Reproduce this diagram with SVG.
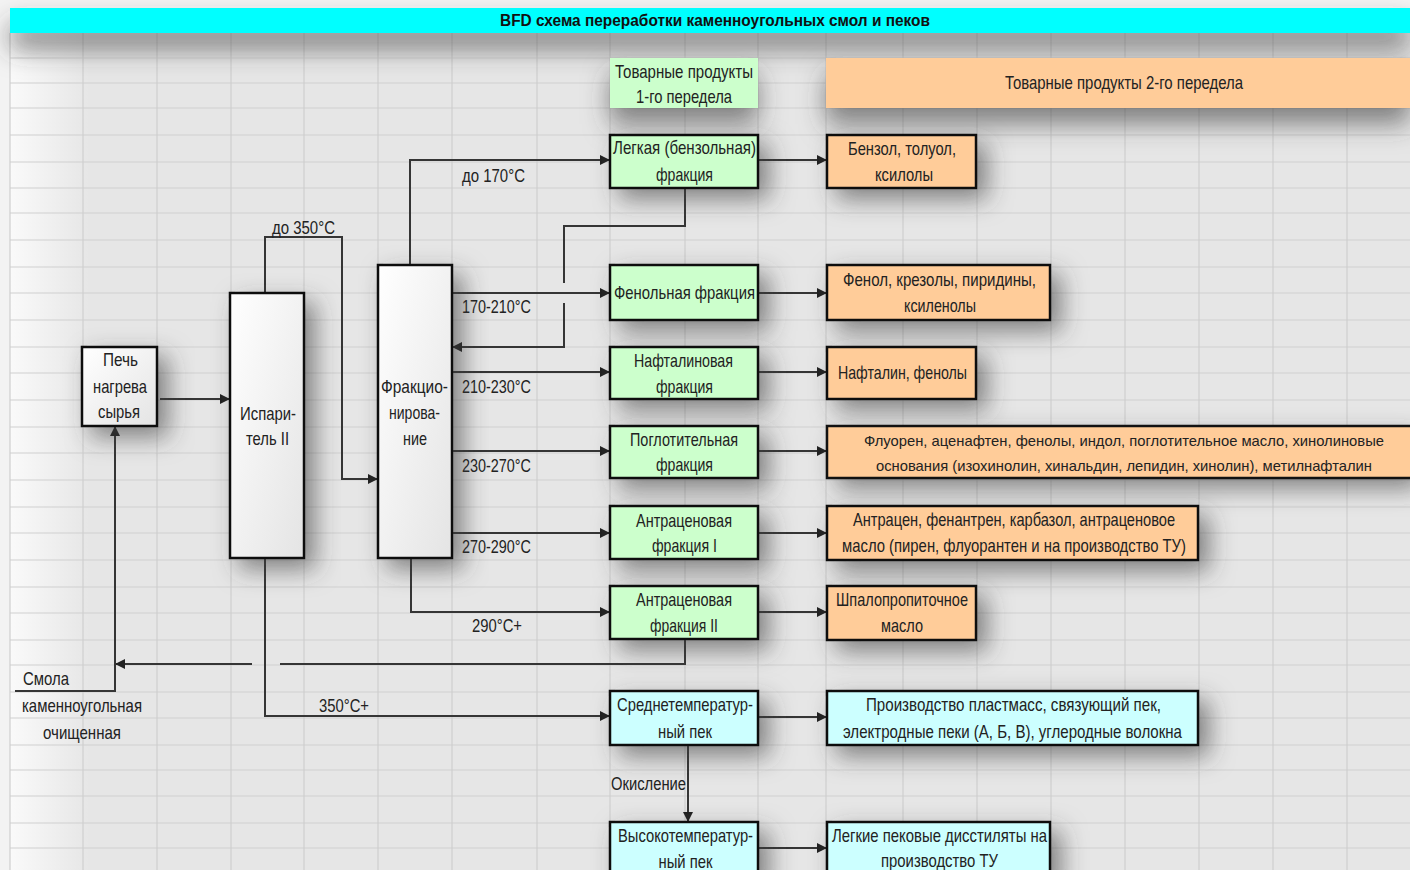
<svg xmlns="http://www.w3.org/2000/svg" width="1410" height="870" viewBox="0 0 1410 870">
<style>
text{font-family:"Liberation Sans",Arial,sans-serif;font-size:18.5px;fill:#222;text-anchor:middle}
.t{font-size:16px;font-weight:bold;fill:#111}
.lbl{font-size:17.5px}
.sm{font-size:15px}
.grid{stroke:#cfcfcf;stroke-width:1.2;fill:none}
.box{stroke:#111;stroke-width:2.5}
.g{fill:#ccffcc}.o{fill:#ffcc99}.c{fill:#ccffff}.w{fill:url(#wg)}
.ln{stroke:#353535;stroke-width:2;fill:none}
.ar{marker-end:url(#ah)}
</style>
<defs>
<marker id="ah" markerUnits="userSpaceOnUse" markerWidth="10" markerHeight="10" refX="10" refY="5" orient="auto"><path d="M0,0 L10,5 L0,10 z" fill="#222"/></marker>
<filter id="sh" x="-40%" y="-40%" width="190%" height="220%"><feDropShadow dx="10" dy="10" stdDeviation="12" flood-color="#3a3a3a" flood-opacity="0.6"/></filter>
<filter id="shb" filterUnits="userSpaceOnUse" x="0" y="0" width="1410" height="200"><feDropShadow dx="0" dy="16" stdDeviation="13" flood-color="#3a3a3a" flood-opacity="0.6"/></filter>
<linearGradient id="wg" x1="0" y1="0" x2="1" y2="1"><stop offset="0" stop-color="#ffffff"/><stop offset="1" stop-color="#e4e4e4"/></linearGradient>
<linearGradient id="lv" x1="0" y1="0" x2="1" y2="0"><stop offset="0" stop-color="#ffffff" stop-opacity="0.8"/><stop offset="1" stop-color="#ffffff" stop-opacity="0"/></linearGradient>
</defs>
<rect x="0" y="0" width="1410" height="870" fill="#f3f3f3"/>
<rect x="10" y="33" width="1400" height="837" fill="#e6e6e6"/>
<rect x="10" y="33" width="80" height="837" fill="url(#lv)"/>
<path class="grid" d="M10,58H1410M10,83H1410M10,108H1410M10,135H1410M10,162H1410M10,188H1410M10,213H1410M10,240H1410M10,267H1410M10,293H1410M10,320H1410M10,347H1410M10,373H1410M10,400H1410M10,427H1410M10,453H1410M10,480H1410M10,507H1410M10,533H1410M10,560H1410M10,587H1410M10,613H1410M10,640H1410M10,665H1410M10,692H1410M10,718H1410M10,745H1410M10,770H1410M10,796H1410M10,823H1410M10,848H1410M10,33V870M83,33V870M157,33V870M231,33V870M304,33V870M378,33V870M452,33V870M537,33V870M610,33V870M685,33V870M758,33V870M826,33V870M903,33V870M977,33V870M1051,33V870M1125,33V870M1199,33V870M1273,33V870M1347,33V870"/>

<g id="title">
<rect x="10" y="8" width="1400" height="25" fill="#00ffff" filter="url(#shb)"/>
<text class="t" x="715" y="26" textLength="430" lengthAdjust="spacingAndGlyphs">BFD схема переработки каменноугольных смол и пеков</text>
</g>
<g id="hdr1">
<rect x="610" y="58" width="148" height="50" class="g" filter="url(#shb)"/>
<text x="684" y="78" textLength="138" lengthAdjust="spacingAndGlyphs">Товарные продукты</text>
<text x="684" y="103" textLength="96" lengthAdjust="spacingAndGlyphs">1-го передела</text>
</g>
<g id="hdr2">
<rect x="826" y="58" width="584" height="50" class="o" filter="url(#shb)"/>
<text x="1124" y="89" textLength="238" lengthAdjust="spacingAndGlyphs">Товарные продукты 2-го передела</text>
</g>

<g id="connectors">
<path class="ln ar" d="M160,399H230"/>
<path class="ln ar" d="M265,293V237H342V479H378"/>
<path class="ln ar" d="M410,265V160H610"/>
<path class="ln ar" d="M452,293H610"/>
<path class="ln" d="M685,188V226H564V283"/>
<path class="ln ar" d="M564,303V347H452"/>
<path class="ln ar" d="M452,372H610"/>
<path class="ln ar" d="M452,451H610"/>
<path class="ln ar" d="M452,533H610"/>
<path class="ln ar" d="M411,558V612H610"/>
<path class="ln" d="M685,639V664H280"/>
<path class="ln ar" d="M252,664H115"/>
<path class="ln ar" d="M15,691H115V426"/>
<path class="ln ar" d="M265,558V716H610"/>
<path class="ln ar" d="M758,160H827"/>
<path class="ln ar" d="M758,293H827"/>
<path class="ln ar" d="M758,372H827"/>
<path class="ln ar" d="M758,451H827"/>
<path class="ln ar" d="M758,533H827"/>
<path class="ln ar" d="M758,612H827"/>
<path class="ln ar" d="M758,717H827"/>
<path class="ln ar" d="M758,848H827"/>
<path class="ln ar" d="M688,745V822"/>
<text class="lbl" x="303.5" y="234" textLength="63" lengthAdjust="spacingAndGlyphs">до 350°C</text>
<text class="lbl" x="493.5" y="182" textLength="63" lengthAdjust="spacingAndGlyphs">до 170°C</text>
<text class="lbl" x="496.5" y="313" textLength="69" lengthAdjust="spacingAndGlyphs">170-210°C</text>
<text class="lbl" x="496.5" y="393" textLength="69" lengthAdjust="spacingAndGlyphs">210-230°C</text>
<text class="lbl" x="496.5" y="472" textLength="69" lengthAdjust="spacingAndGlyphs">230-270°C</text>
<text class="lbl" x="496.5" y="553" textLength="69" lengthAdjust="spacingAndGlyphs">270-290°C</text>
<text class="lbl" x="497" y="632" textLength="50" lengthAdjust="spacingAndGlyphs">290°C+</text>
<text class="lbl" x="344" y="712" textLength="50" lengthAdjust="spacingAndGlyphs">350°C+</text>
<text class="lbl" x="648.5" y="790" textLength="75" lengthAdjust="spacingAndGlyphs">Окисление</text>
</g>

<g id="feed">
<text x="46" y="685" textLength="46" lengthAdjust="spacingAndGlyphs">Смола</text>
<text x="82" y="712" textLength="120" lengthAdjust="spacingAndGlyphs">каменноугольная</text>
<text x="82" y="739" textLength="78" lengthAdjust="spacingAndGlyphs">очищенная</text>
</g>

<g id="pech">
<rect x="82" y="347" width="75" height="79" class="box w" filter="url(#sh)"/>
<text x="120.5" y="366" textLength="35" lengthAdjust="spacingAndGlyphs">Печь</text>
<text x="120" y="393" textLength="54" lengthAdjust="spacingAndGlyphs">нагрева</text>
<text x="119" y="418" textLength="42" lengthAdjust="spacingAndGlyphs">сырья</text>
</g>
<g id="isp">
<rect x="230" y="293" width="74" height="265" class="box w" filter="url(#sh)"/>
<text x="268" y="420" textLength="56" lengthAdjust="spacingAndGlyphs">Испари-</text>
<text x="267.5" y="445" textLength="43" lengthAdjust="spacingAndGlyphs">тель II</text>
</g>
<g id="frac">
<rect x="378" y="265" width="74" height="293" class="box w" filter="url(#sh)"/>
<text x="414.5" y="393" textLength="67" lengthAdjust="spacingAndGlyphs">Фракцио-</text>
<text x="414.5" y="419" textLength="51" lengthAdjust="spacingAndGlyphs">нирова-</text>
<text x="415" y="445" textLength="24" lengthAdjust="spacingAndGlyphs">ние</text>
</g>

<g id="light">
<rect x="610" y="135" width="148" height="53" class="box g" filter="url(#sh)"/>
<text x="684.5" y="154" textLength="143" lengthAdjust="spacingAndGlyphs">Легкая (бензольная)</text>
<text x="684.5" y="181" textLength="57" lengthAdjust="spacingAndGlyphs">фракция</text>
</g>
<g id="phenol">
<rect x="610" y="265" width="148" height="55" class="box g" filter="url(#sh)"/>
<text x="684.5" y="299" textLength="141" lengthAdjust="spacingAndGlyphs">Фенольная фракция</text>
</g>
<g id="naph">
<rect x="610" y="347" width="148" height="52" class="box g" filter="url(#sh)"/>
<text x="683.5" y="367" textLength="99" lengthAdjust="spacingAndGlyphs">Нафталиновая</text>
<text x="684.5" y="393" textLength="57" lengthAdjust="spacingAndGlyphs">фракция</text>
</g>
<g id="absorb">
<rect x="610" y="426" width="148" height="52" class="box g" filter="url(#sh)"/>
<text x="684" y="446" textLength="108" lengthAdjust="spacingAndGlyphs">Поглотительная</text>
<text x="684.5" y="471" textLength="57" lengthAdjust="spacingAndGlyphs">фракция</text>
</g>
<g id="anth1">
<rect x="610" y="506" width="148" height="53" class="box g" filter="url(#sh)"/>
<text x="684" y="527" textLength="96" lengthAdjust="spacingAndGlyphs">Антраценовая</text>
<text x="684.5" y="552" textLength="65" lengthAdjust="spacingAndGlyphs">фракция I</text>
</g>
<g id="anth2">
<rect x="610" y="586" width="148" height="53" class="box g" filter="url(#sh)"/>
<text x="684" y="606" textLength="96" lengthAdjust="spacingAndGlyphs">Антраценовая</text>
<text x="684" y="632" textLength="68" lengthAdjust="spacingAndGlyphs">фракция II</text>
</g>
<g id="midpitch">
<rect x="610" y="691" width="148" height="54" class="box c" filter="url(#sh)"/>
<text x="685" y="711" textLength="136" lengthAdjust="spacingAndGlyphs">Среднетемператур-</text>
<text x="685" y="738" textLength="54" lengthAdjust="spacingAndGlyphs">ный пек</text>
</g>
<g id="highpitch">
<rect x="610" y="822" width="148" height="60" class="box c" filter="url(#sh)"/>
<text x="685.5" y="842" textLength="135" lengthAdjust="spacingAndGlyphs">Высокотемператур-</text>
<text x="685.5" y="868" textLength="54" lengthAdjust="spacingAndGlyphs">ный пек</text>
</g>

<g id="benz">
<rect x="827" y="135" width="149" height="53" class="box o" filter="url(#sh)"/>
<text x="902" y="155" textLength="108" lengthAdjust="spacingAndGlyphs">Бензол, толуол,</text>
<text x="904" y="181" textLength="58" lengthAdjust="spacingAndGlyphs">ксилолы</text>
</g>
<g id="phenols">
<rect x="827" y="265" width="223" height="55" class="box o" filter="url(#sh)"/>
<text x="939.5" y="286" textLength="193" lengthAdjust="spacingAndGlyphs">Фенол, крезолы, пиридины,</text>
<text x="940" y="312" textLength="72" lengthAdjust="spacingAndGlyphs">ксиленолы</text>
</g>
<g id="naphp">
<rect x="827" y="347" width="149" height="52" class="box o" filter="url(#sh)"/>
<text x="902.5" y="379" textLength="129" lengthAdjust="spacingAndGlyphs">Нафталин, фенолы</text>
</g>
<g id="fluor">
<rect x="827" y="426" width="583" height="52" class="o" filter="url(#sh)"/>
<path d="M1410,426H827V478H1410" fill="none" stroke="#111" stroke-width="2.5"/>
<text class="sm" x="1124" y="446" textLength="520" lengthAdjust="spacingAndGlyphs">Флуорен, аценафтен, фенолы, индол, поглотительное масло, хинолиновые</text>
<text class="sm" x="1124" y="471" textLength="496" lengthAdjust="spacingAndGlyphs">основания (изохинолин, хинальдин, лепидин, хинолин), метилнафталин</text>
</g>
<g id="anthp">
<rect x="827" y="506" width="371" height="54" class="box o" filter="url(#sh)"/>
<text x="1014" y="526" textLength="322" lengthAdjust="spacingAndGlyphs">Антрацен, фенантрен, карбазол, антраценовое</text>
<text x="1014" y="552" textLength="344" lengthAdjust="spacingAndGlyphs">масло (пирен, флуорантен и на производство ТУ)</text>
</g>
<g id="sleeper">
<rect x="827" y="586" width="149" height="54" class="box o" filter="url(#sh)"/>
<text x="902" y="606" textLength="132" lengthAdjust="spacingAndGlyphs">Шпалопропиточное</text>
<text x="902" y="632" textLength="42" lengthAdjust="spacingAndGlyphs">масло</text>
</g>
<g id="plast">
<rect x="827" y="691" width="371" height="54" class="box c" filter="url(#sh)"/>
<text x="1013.5" y="711" textLength="295" lengthAdjust="spacingAndGlyphs">Производство пластмасс, связующий пек,</text>
<text x="1012.5" y="738" textLength="339" lengthAdjust="spacingAndGlyphs">электродные пеки (А, Б, В), углеродные волокна</text>
</g>
<g id="distil">
<rect x="827" y="822" width="223" height="60" class="box c" filter="url(#sh)"/>
<text x="939.5" y="842" textLength="215" lengthAdjust="spacingAndGlyphs">Легкие пековые дисстиляты на</text>
<text x="939.5" y="867" textLength="117" lengthAdjust="spacingAndGlyphs">производство ТУ</text>
</g>
</svg>
